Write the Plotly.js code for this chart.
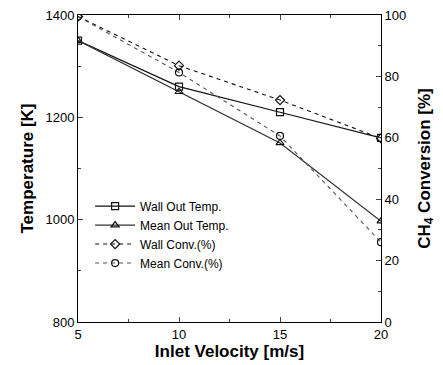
<!DOCTYPE html>
<html><head><meta charset="utf-8">
<script src="https://cdn.plot.ly/plotly-3.0.1.min.js"></script>
<style>body{margin:0;background:#fff}#c{width:443px;height:365px}</style>
</head><body><div id="c"></div>
<script>
const velocity = [5, 10, 15, 20];
const wallOutTemp = [1350, 1260, 1210, 1160];
const meanOutTemp = [1350, 1250, 1150, 997];
const wallConv = [99.5, 83.5, 72.3, 59.8];
const meanConv = [99.5, 81.3, 60.6, 26];

const traces = [
  {x: velocity, y: wallOutTemp, name: 'Wall Out Temp.', mode: 'lines+markers',
   line: {color: '#111', width: 1.2, dash: 'solid'},
   marker: {symbol: 'square-open', size: 7, color: '#111', line: {width: 1.2}}},
  {x: velocity, y: meanOutTemp, name: 'Mean Out Temp.', mode: 'lines+markers',
   line: {color: '#333', width: 1.2, dash: 'solid'},
   marker: {symbol: 'triangle-up-open', size: 7, color: '#111', line: {width: 1.2}}},
  {x: velocity, y: wallConv, name: 'Wall Conv.(%)', mode: 'lines+markers', yaxis: 'y2',
   line: {color: '#111', width: 1.1, dash: '4px,4px'},
   marker: {symbol: 'diamond-open', size: 7, color: '#111', line: {width: 1.2}}},
  {x: velocity, y: meanConv, name: 'Mean Conv.(%)', mode: 'lines+markers', yaxis: 'y2',
   line: {color: '#555', width: 1.1, dash: '4px,4px'},
   marker: {symbol: 'circle-open', size: 7, color: '#111', line: {width: 1.2}}}
];

const tickFont = {family: 'Liberation Sans, Arial, sans-serif', size: 13, color: '#000'};
const titleFont = {family: 'Liberation Sans, Arial, sans-serif', size: 17, color: '#000', weight: 'bold'};

const layout = {
  width: 443, height: 365,
  margin: {l: 78, r: 62, t: 15, b: 43},
  paper_bgcolor: '#fff', plot_bgcolor: '#fff',
  showlegend: true,
  legend: {x: 0.04, y: 0.425, xanchor: 'left', yanchor: 'top', bgcolor: 'rgba(0,0,0,0)',
           font: {family: 'Liberation Sans, Arial, sans-serif', size: 12, color: '#000'},
           tracegroupgap: 0, itemwidth: 40},
  xaxis: {range: [5, 20], tickvals: [5, 10, 15, 20], ticks: 'inside', ticklen: 5,
          showline: true, linecolor: '#000', linewidth: 1, mirror: 'ticks', showgrid: false,
          zeroline: false, tickfont: tickFont,
          minor: {dtick: 2.5, tick0: 5, ticks: 'inside', ticklen: 3, showgrid: false},
          title: {text: 'Inlet Velocity [m/s]', font: titleFont, standoff: 3}},
  yaxis: {range: [800, 1400], dtick: 200, ticks: 'inside', ticklen: 5,
          showline: true, linecolor: '#000', linewidth: 1, showgrid: false, zeroline: false,
          tickfont: tickFont,
          minor: {dtick: 100, ticks: 'inside', ticklen: 3, showgrid: false},
          title: {text: 'Temperature [K]', font: titleFont, standoff: 7}},
  yaxis2: {range: [0, 100], dtick: 20, overlaying: 'y', side: 'right', ticks: 'inside', ticklen: 5,
           showline: true, linecolor: '#000', linewidth: 1, showgrid: false, zeroline: false,
           tickfont: tickFont,
           minor: {dtick: 10, ticks: 'inside', ticklen: 3, showgrid: false},
           title: {text: 'CH<sub>4</sub> Conversion [%]', font: titleFont, standoff: 12}}
};

Plotly.newPlot('c', traces, layout, {displayModeBar: false, staticPlot: true});
</script></body></html>
